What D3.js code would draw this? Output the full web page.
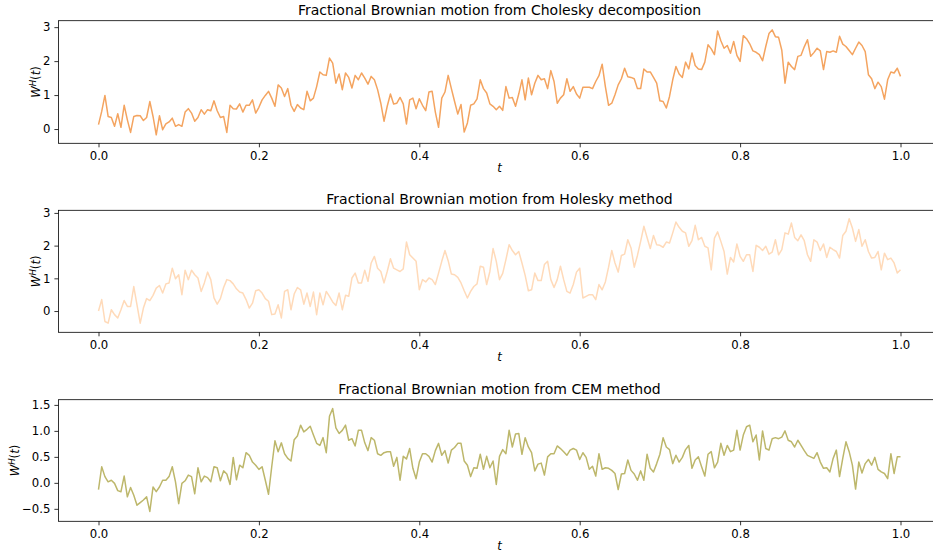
<!DOCTYPE html>
<html>
<head>
<meta charset="utf-8">
<script src="https://cdn.jsdelivr.net/npm/d3@7"></script>
<style>
  body { margin: 0; background: #fff; }
  svg { display: block; font-family: "DejaVu Sans", sans-serif; }
</style>
</head>
<body>
<svg id="chart" width="933" height="559"></svg>
<script>
// sample paths on t = 0 .. 1 (251 points each)
const cholesky = [
  0.13, 0.52, 0.99, 0.37, 0.34, 0.08, 0.45, 0.05, 0.70, 0.27,
  -0.10, 0.37, 0.40, 0.39, 0.25, 0.34, 0.81, 0.37, -0.17, 0.39,
  -0.02, 0.15, 0.21, 0.32, 0.08, 0.13, 0.08, 0.50, 0.60, 0.47,
  0.23, 0.34, 0.57, 0.44, 0.57, 0.54, 0.83, 0.54, 0.34, 0.37,
  -0.10, 0.70, 0.60, 0.59, 0.74, 0.50, 0.70, 0.70, 0.86, 0.47,
  0.64, 0.86, 0.99, 1.11, 0.91, 0.67, 1.30, 1.21, 0.96, 1.19,
  0.70, 0.52, 0.72, 0.62, 0.57, 1.11, 0.83, 0.91, 1.25, 1.68,
  1.60, 1.58, 2.09, 1.94, 1.35, 1.62, 1.16, 1.65, 1.52, 1.21,
  1.58, 1.45, 1.65, 1.50, 1.32, 1.55, 1.45, 1.16, 0.76, 0.23,
  0.67, 1.03, 0.74, 0.76, 0.93, 0.74, 0.15, 0.86, 0.91, 0.60,
  0.89, 0.70, 0.54, 1.09, 1.11, 0.50, 0.05, 0.91, 1.09, 1.58,
  1.19, 0.81, 0.44, 0.72, -0.09, 0.18, 0.70, 0.74, 0.89, 1.45,
  1.19, 1.06, 0.74, 0.67, 0.57, 0.67, 0.55, 1.25, 0.91, 0.93,
  0.67, 1.03, 1.45, 0.86, 1.50, 1.01, 1.35, 1.58, 1.45, 1.48,
  1.19, 1.72, 1.40, 0.76, 0.91, 1.01, 1.48, 1.11, 1.25, 1.03,
  0.91, 1.23, 1.23, 1.23, 1.19, 1.40, 1.57, 1.91, 1.25, 0.70,
  0.76, 1.01, 1.30, 1.48, 1.79, 1.54, 1.52, 1.48, 1.19, 1.19,
  1.77, 1.68, 1.68, 1.52, 1.35, 0.83, 0.81, 0.62, 0.96, 1.45,
  1.84, 1.62, 1.52, 1.97, 1.77, 2.24, 1.87, 1.77, 1.75, 1.97,
  2.48, 2.36, 2.19, 2.89, 2.60, 2.38, 2.46, 2.23, 2.58, 2.17,
  1.99, 2.75, 2.66, 2.51, 2.30, 2.26, 2.19, 2.01, 2.43, 2.81,
  2.92, 2.72, 2.70, 2.32, 1.35, 1.97, 1.84, 1.75, 2.14, 2.17,
  2.42, 2.63, 2.14, 2.25, 2.38, 2.30, 1.75, 2.28, 2.26, 2.30,
  2.26, 2.73, 2.50, 2.43, 2.31, 2.19, 2.38, 2.56, 2.46, 2.28,
  1.60, 1.48, 1.19, 1.38, 1.25, 0.88, 1.45, 1.68, 1.65, 1.79,
  1.55
];

const holesky = [
  0.00, 0.35, -0.32, -0.37, 0.04, -0.11, -0.21, 0.04, 0.32, 0.14,
  0.14, 0.75, 0.19, -0.37, 0.09, 0.38, 0.32, 0.48, 0.70, 0.78,
  0.55, 0.83, 0.86, 1.31, 0.99, 1.11, 0.50, 1.25, 0.96, 1.25,
  1.11, 1.01, 0.60, 0.86, 1.19, 0.96, 0.40, 0.21, 0.38, 0.72,
  0.96, 0.93, 0.83, 0.68, 0.58, 0.55, 0.35, 0.09, 0.24, 0.62,
  0.65, 0.55, 0.38, 0.30, -0.11, -0.09, 0.19, -0.21, 0.60, 0.65,
  0.04, 0.52, 0.72, 0.65, 0.21, 0.55, 0.14, 0.58, -0.11, 0.55,
  0.19, 0.60, 0.45, 0.28, 0.17, 0.55, 0.04, 0.48, 0.45, 1.01,
  1.16, 0.86, 0.86, 1.25, 0.91, 1.47, 1.67, 1.31, 1.21, 0.86,
  1.21, 1.60, 1.31, 1.26, 1.21, 1.29, 2.11, 1.72, 1.62, 1.52,
  0.65, 0.96, 0.89, 1.01, 0.96, 0.81, 1.16, 1.52, 1.85, 1.54,
  1.13, 1.11, 1.03, 0.86, 0.62, 0.40, 0.60, 0.75, 0.83, 1.37,
  1.34, 0.81, 1.21, 1.91, 1.52, 0.96, 1.15, 1.57, 2.03, 1.85,
  1.72, 1.82, 1.47, 1.09, 0.62, 0.65, 1.16, 0.93, 0.93, 1.42,
  1.52, 0.96, 0.72, 0.96, 1.37, 0.96, 0.60, 0.55, 0.81, 1.19,
  1.31, 0.40, 0.45, 0.50, 0.50, 0.35, 0.81, 0.65, 0.89, 1.34,
  1.85, 1.47, 1.19, 1.70, 1.74, 2.18, 1.93, 1.34, 1.70, 2.13,
  2.59, 2.25, 1.91, 2.31, 2.03, 2.01, 1.95, 2.11, 2.08, 2.39,
  2.72, 2.56, 2.44, 2.39, 1.98, 2.15, 2.62, 2.18, 2.25, 1.98,
  1.93, 1.26, 2.23, 2.42, 2.13, 1.82, 1.13, 1.64, 1.50, 2.05,
  1.67, 1.52, 1.72, 1.72, 1.21, 2.01, 1.95, 1.85, 1.98, 1.74,
  1.80, 2.18, 1.72, 1.88, 2.39, 2.35, 2.69, 2.25, 2.15, 2.33,
  2.15, 1.72, 1.52, 2.18, 2.11, 1.85, 2.05, 1.64, 1.95, 1.88,
  1.82, 1.62, 2.31, 2.44, 2.82, 2.54, 2.13, 2.49, 1.98, 2.18,
  1.82, 1.62, 1.64, 1.82, 1.26, 1.77, 1.57, 1.62, 1.47, 1.16,
  1.26
];

const cem = [
  -0.13, 0.31, 0.12, 0.02, 0.05, -0.01, -0.15, -0.17, 0.13, -0.27,
  -0.09, -0.24, -0.43, -0.38, -0.33, -0.27, -0.55, -0.08, -0.17, -0.08,
  0.05, 0.05, 0.12, 0.31, 0.02, -0.40, -0.01, 0.04, 0.15, 0.12,
  -0.21, 0.29, 0.02, 0.13, 0.10, 0.02, 0.31, 0.29, 0.04, 0.23,
  0.17, -0.03, 0.49, 0.06, 0.34, 0.29, 0.58, 0.53, 0.40, 0.34,
  0.26, 0.31, 0.05, -0.22, 0.31, 0.81, 0.60, 0.77, 0.56, 0.47,
  0.42, 0.83, 0.90, 1.11, 0.98, 1.03, 1.09, 0.92, 0.76, 0.72,
  0.87, 0.58, 1.28, 1.43, 1.06, 0.95, 1.01, 1.11, 0.82, 0.85,
  0.71, 1.01, 1.01, 0.77, 0.62, 0.87, 0.82, 0.56, 0.53, 0.58,
  0.60, 0.60, 0.32, 0.49, 0.05, 0.51, 0.46, 0.66, 0.28, 0.08,
  0.40, 0.56, 0.56, 0.51, 0.40, 0.62, 0.76, 0.53, 0.62, 0.38,
  0.63, 0.68, 0.76, 0.76, 0.42, 0.34, 0.12, 0.29, 0.28, 0.55,
  0.26, 0.51, 0.29, 0.42, -0.03, 0.51, 0.64, 0.56, 1.01, 0.69,
  0.94, 0.95, 0.55, 0.87, 0.69, 0.58, 0.23, 0.36, 0.38, 0.15,
  0.50, 0.56, 0.56, 0.71, 0.66, 0.60, 0.53, 0.63, 0.66, 0.63,
  0.45, 0.58, 0.49, 0.26, 0.32, 0.13, 0.56, 0.26, 0.29, 0.28,
  0.24, 0.18, -0.13, 0.17, 0.18, 0.44, 0.24, 0.17, 0.05, 0.23,
  0.05, 0.55, 0.28, 0.21, 0.37, 0.55, 0.87, 0.69, 0.64, 0.37,
  0.53, 0.40, 0.49, 0.64, 0.72, 0.28, 0.44, 0.50, 0.31, 0.13,
  0.55, 0.60, 0.29, 0.40, 0.76, 0.53, 0.72, 0.60, 0.63, 1.01,
  0.63, 0.92, 1.08, 1.11, 0.79, 0.92, 0.44, 1.00, 0.66, 0.63,
  0.85, 0.87, 0.85, 0.88, 1.00, 0.82, 0.79, 0.69, 0.82, 0.72,
  0.62, 0.53, 0.50, 0.47, 0.58, 0.40, 0.28, 0.29, 0.21, 0.47,
  0.63, 0.12, 0.47, 0.79, 0.60, 0.34, -0.12, 0.40, 0.19, 0.37,
  0.45, 0.34, 0.49, 0.26, 0.21, 0.18, 0.08, 0.56, 0.18, 0.50,
  0.50
];

const titles = [
  "Fractional Brownian motion from Cholesky decomposition",
  "Fractional Brownian motion from Holesky method",
  "Fractional Brownian motion from CEM method"
];
const xTicks = [0, 0.2, 0.4, 0.6, 0.8, 1.0];
const yTicksTop = [0, 1, 2, 3];
const yTicksMid = [0, 1, 2, 3];
const yTicksBottom = [-0.5, 0, 0.5, 1.0, 1.5];

const svg = d3.select("#chart");
svg.append("rect").attr("width", 933).attr("height", 559).attr("fill", "#fff");

const left = 58.4, right = 940.6;
const x = d3.scaleLinear().domain([-0.05, 1.05]).range([left, right]);

const panels = [
  { title: titles[0], values: cholesky, color: "#f4a460", top: 20.7, bottom: 143.3,
    yDomain: [-0.42, 3.19], yTicks: yTicksTop, fmt: d3.format("d") },
  { title: titles[1], values: holesky, color: "#ffdab9", top: 210.3, bottom: 332.3,
    yDomain: [-0.65, 3.08], yTicks: yTicksMid, fmt: d3.format("d") },
  { title: titles[2], values: cem, color: "#bdb76b", top: 399.7, bottom: 521.3,
    yDomain: [-0.74, 1.60], yTicks: yTicksBottom, fmt: d3.format(".1f") }
];

const tickFont = 11.7;

panels.forEach((p, k) => {
  const y = d3.scaleLinear().domain(p.yDomain).range([p.bottom, p.top]);
  const g = svg.append("g");
  const n = p.values.length - 1;

  const clipId = "clip" + k;
  svg.append("clipPath").attr("id", clipId)
    .append("rect")
    .attr("x", left).attr("y", p.top)
    .attr("width", right - left).attr("height", p.bottom - p.top);

  const line = d3.line()
    .x((d, i) => x(i / n))
    .y(d => y(d));

  g.append("path")
    .datum(p.values)
    .attr("clip-path", `url(#${clipId})`)
    .attr("fill", "none")
    .attr("stroke", p.color)
    .attr("stroke-width", 1.5)
    .attr("stroke-linejoin", "round")
    .attr("d", line);

  // axes frame
  g.append("rect")
    .attr("x", left).attr("y", p.top)
    .attr("width", right - left).attr("height", p.bottom - p.top)
    .attr("fill", "none")
    .attr("stroke", "#000")
    .attr("stroke-width", 0.8);

  const xAxis = g.append("g")
    .attr("transform", `translate(0,${p.bottom})`)
    .call(d3.axisBottom(x).tickValues(xTicks).tickFormat(d3.format(".1f"))
      .tickSize(4).tickPadding(4).tickSizeOuter(0));
  xAxis.select(".domain").remove();

  const yAxis = g.append("g")
    .attr("transform", `translate(${left},0)`)
    .call(d3.axisLeft(y).tickValues(p.yTicks).tickFormat(p.fmt)
      .tickSize(4).tickPadding(4).tickSizeOuter(0));
  yAxis.select(".domain").remove();

  [xAxis, yAxis].forEach(a => {
    a.selectAll(".tick line").attr("stroke", "#000").attr("stroke-width", 0.8);
    a.selectAll(".tick text")
      .attr("fill", "#000")
      .style("font-family", "DejaVu Sans")
      .style("font-size", tickFont + "px");
  });

  // title
  g.append("text")
    .attr("x", (left + 940.6) / 2 - 0)
    .attr("x", x(0.5))
    .attr("y", p.top - 6)
    .attr("text-anchor", "middle")
    .style("font-size", "14px")
    .attr("fill", "#000")
    .text(p.title);

  // x label
  g.append("text")
    .attr("x", x(0.5))
    .attr("y", p.bottom + 29)
    .attr("text-anchor", "middle")
    .style("font-size", tickFont + "px")
    .style("font-style", "italic")
    .attr("fill", "#000")
    .text("t");

  // y label W^H(t)
  const cy = (p.top + p.bottom) / 2;
  const lab = g.append("text")
    .attr("transform", `translate(${k === 2 ? 19 : 40},${cy}) rotate(-90)`)
    .attr("text-anchor", "middle")
    .style("font-size", tickFont + "px")
    .attr("fill", "#000");
  lab.append("tspan").style("font-style", "italic").text("W");
  lab.append("tspan").style("font-style", "italic").style("font-size", "8.5px")
    .attr("dy", -4.5).text("H");
  lab.append("tspan").attr("dy", 4.5).text("(");
  lab.append("tspan").style("font-style", "italic").text("t");
  lab.append("tspan").text(")");
});
</script>
</body>
</html>
